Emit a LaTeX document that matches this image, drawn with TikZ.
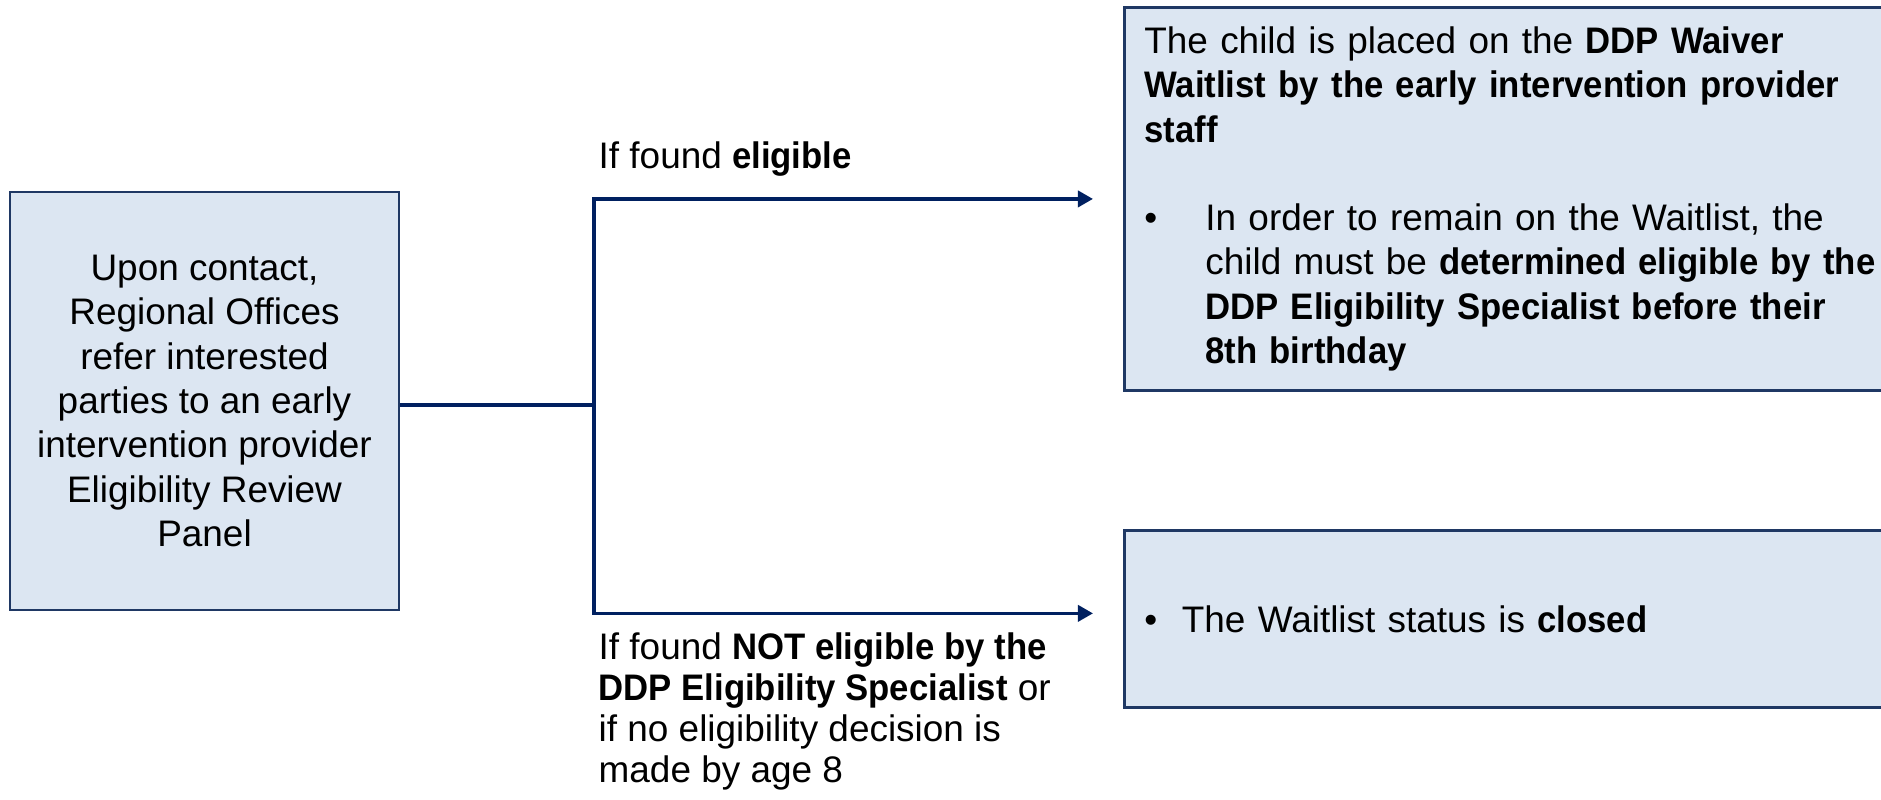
\documentclass[tikz,border=0pt]{standalone}
\usepackage{fontspec}
\setmainfont{Liberation Sans}[BoldFeatures={FakeStretch=0.94}]
\usetikzlibrary{arrows.meta}
\definecolor{boxfill}{HTML}{DCE6F2}
\definecolor{boxline}{HTML}{1F3864}
\definecolor{navy}{HTML}{002060}

\begin{document}
\begin{tikzpicture}[x=0.01cm,y=-0.01cm]
        \tikzset{
        txt/.style={font=\fontsize{10.5}{12.6}\selectfont},
        panel/.style={txt, rectangle, fill=boxfill, draw=boxline, line width=0.75pt},
        lbl/.style={font=\fontsize{10.5}{11.7}\selectfont, inner sep=0pt, align=left},
        link/.style={-, draw=navy, line width=1pt},
        flow/.style={-{Triangle[length=4.3pt,width=4.6pt]}, draw=navy, line width=1pt,
        shorten >=0.3cm}
        }
        \useasboundingbox (0,0) rectangle (1881,800);

        \node[panel, minimum width=3.89cm, minimum height=4.18cm, align=center]
        (src) at (204.5,401) {Upon contact,\\Regional Offices\\refer interested\\parties to an early\\intervention provider\\Eligibility Review\\Panel};

        \node[panel, anchor=north west, minimum width=8.27cm, minimum height=3.83cm,
        inner xsep=0.2cm, text width=7.87cm, align=left] (wait) at (1123,6)
        {The child is placed on the \textbf{DDP Waiver}\\
        \textbf{Waitlist by the early intervention provider}\\
        \textbf{staff}\\[12.6pt]
        \makebox[0.61cm][l]{•}In order to remain on the Waitlist, the\\
        \hspace*{0.61cm}child must be \textbf{determined eligible by the}\\
        \hspace*{0.61cm}\textbf{DDP Eligibility Specialist before their}\\
        \hspace*{0.61cm}\textbf{8th birthday}};

        \node[panel, anchor=north west, minimum width=8.27cm, minimum height=1.77cm,
        inner xsep=0.2cm, text width=7.87cm, align=left] (closed) at (1123,529)
        {\makebox[0.375cm][l]{•}The Waitlist status is \textbf{closed}};

        \coordinate (jn) at (594,405);

        \draw[link] (src.east |- jn) -- (jn);
        \draw[flow] (jn) |- (wait.west);
        \draw[flow] (jn) |- ([yshift=0.055cm]closed.west);

        \node[lbl, anchor=base west] (yes) at (598,168) {If found \textbf{eligible}};
        \node[lbl, anchor=north west] (no) at (598,632)
        {If found \textbf{NOT eligible by the}\\\textbf{DDP Eligibility Specialist} or\\if no eligibility decision is\\made by age 8};
\end{tikzpicture}
\end{document}
